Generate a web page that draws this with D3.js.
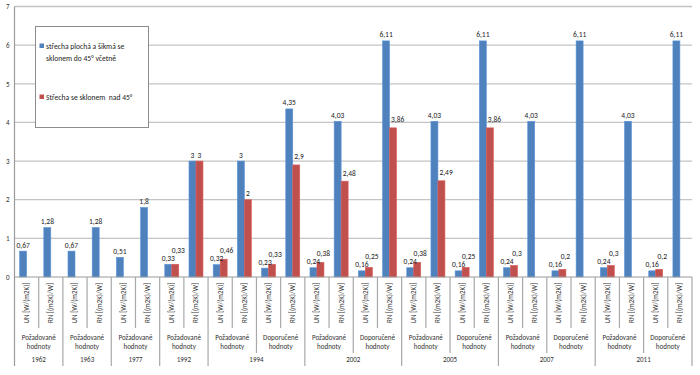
<!DOCTYPE html>
<html><head><meta charset="utf-8">
<script src="https://cdn.jsdelivr.net/npm/d3@7"></script>
<style>
html,body{margin:0;padding:0;background:#fff;}
text{font-family:Carlito,Lato,"Open Sans",sans-serif;}
</style></head>
<body><svg id="c" width="700" height="375"></svg>
<script>
// ---- data ----
const groupYears = ["1962","1963","1977","1992","1994","1994","2002","2002","2005","2005","2007","2007","2011","2011"];
const groupTypes = ["Požadované hodnoty","Požadované hodnoty","Požadované hodnoty","Požadované hodnoty",
  "Požadované hodnoty","Doporučené hodnoty","Požadované hodnoty","Doporučené hodnoty",
  "Požadované hodnoty","Doporučené hodnoty","Požadované hodnoty","Doporučené hodnoty",
  "Požadované hodnoty","Doporučené hodnoty"];
const measures = ["UN [W/(m2K)]","RN [(m2K)/W]"];
const seriesNames = ["střecha plochá a šikmá se sklonem do 45° včetně","Střecha se sklonem  nad 45°"];
const blueValues = [0.67,1.28, 0.67,1.28, 0.51,1.8, 0.33,3, 0.32,3, 0.23,4.35, 0.24,4.03, 0.16,6.11, 0.24,4.03, 0.16,6.11, 0.24,4.03, 0.16,6.11, 0.24,4.03, 0.16,6.11];
const redValues  = [null,null, null,null, null,null, 0.33,3, 0.46,2, 0.33,2.9, 0.38,2.48, 0.25,3.86, 0.38,2.49, 0.25,3.86, 0.3,null, 0.2,null, 0.3,null, 0.2,null];
const yTicks = [0,1,2,3,4,5,6,7];

// ---- build categories ----
const cats = [];
groupYears.forEach((y,g)=>measures.forEach((m,j)=>cats.push({id:g*2+j, year:y, type:groupTypes[g], g:g, m:m})));

const svg = d3.select("#c");
const left = 14.5, right = 692, y0 = 277, yTop = 6.5;
const x = d3.scaleBand().domain(cats.map(c=>c.id)).range([left,right]).paddingInner(0).paddingOuter(0);
const x1 = d3.scaleBand().domain([0,1]).range([0,x.bandwidth()]).paddingInner(0).paddingOuter(0.73);
const y = d3.scaleLinear().domain([0,7]).range([y0,yTop]);
const colors = ["#4F81BD","#C0504D"];

// gridlines
svg.append("g").selectAll("line").data(yTicks.filter(t=>t>0)).join("line")
  .attr("x1",left).attr("x2",right).attr("y1",d=>y(d)).attr("y2",d=>y(d))
  .attr("stroke","#c4c4c4").attr("stroke-width",1.3);

// y axis labels
const yAxis = d3.axisLeft(y).tickValues(yTicks).tickSize(0).tickPadding(5).tickFormat(d3.format("d"));
const ya = svg.append("g").attr("transform",`translate(${left},0)`).call(yAxis);
ya.select(".domain").remove();
ya.selectAll("text").attr("font-size",7).attr("fill","#333").style("font-family","Carlito,Lato,sans-serif");

// bars
const series = [blueValues, redValues];
const barG = svg.append("g");
series.forEach((vals,s)=>{
  barG.append("g").selectAll("rect").data(cats.filter(c=>vals[c.id]!=null)).join("rect")
    .attr("x",c=>x(c.id)+x1(s)).attr("width",x1.bandwidth())
    .attr("y",c=>y(vals[c.id])).attr("height",c=>y0-y(vals[c.id]))
    .attr("fill",colors[s]).attr("stroke",d3.color(colors[s]).brighter(0.4)).attr("stroke-width",0.6);
});

// axis lines
svg.append("line").attr("x1",left).attr("x2",right).attr("y1",y0).attr("y2",y0).attr("stroke","#9a9a9a").attr("stroke-width",1.2);
svg.append("line").attr("x1",left).attr("x2",left).attr("y1",yTop).attr("y2",366).attr("stroke","#9a9a9a").attr("stroke-width",1.2);

// category separators
const bounds = d3.range(1,cats.length+1);
svg.append("g").selectAll("line").data(bounds).join("line")
  .attr("x1",k=>k<cats.length?x(k):right).attr("x2",k=>k<cats.length?x(k):right)
  .attr("y1",y0)
  .attr("y2",k=>{
    if(k===cats.length) return 366;
    const a=cats[k-1], b=cats[k];
    if(a.year!==b.year) return 366;
    if(a.g!==b.g) return 353;
    return 328;
  })
  .attr("stroke","#a8a8a8").attr("stroke-width",1.2);

// data labels
const fmt = v=>String(v).replace(".",",");
const lblG = svg.append("g");
cats.forEach(c=>{
  let blueBox=null, blueBase=null;
  series.forEach((vals,s)=>{
    const v = vals[c.id]; if(v==null) return;
    const barX = x(c.id)+x1(s);
    const cx = barX+x1.bandwidth()/2;
    let base = y(v)-3.5;
    const t = lblG.append("text").attr("x",cx).attr("y",base).attr("text-anchor","middle")
      .attr("font-size",7.5).attr("fill","#222").text(fmt(v));
    const w = t.node().getComputedTextLength();
    if(s===0){ blueBox={x0:cx-w/2,x1:cx+w/2}; blueBase=base; }
    else if(blueBox){
      const over = (cx-w/2 < blueBox.x1) && (cx+w/2 > blueBox.x0) && Math.abs(base-blueBase)<9;
      if(over){ t.attr("y",Math.min(base,blueBase-8)).attr("x",cx+3); }
      else if(blueBase < base-8 && cx-w/2 < barX){
        // keep clear of the taller neighbouring bar
        t.attr("x",barX+w/2+1.5).attr("y",base-2);
      }
    }
  });
});

// category labels level 1 (rotated)
svg.append("g").selectAll("text").data(cats).join("text")
  .attr("transform",c=>`translate(${x(c.id)+x.bandwidth()/2+2.5},303) rotate(-90)`)
  .attr("text-anchor","middle").attr("font-size",7).attr("fill","#333").text(c=>c.m);

// level 2 (subgroup type)
const groups = d3.range(groupYears.length);
const gText = svg.append("g").selectAll("text").data(groups).join("text")
  .attr("text-anchor","middle").attr("font-size",7).attr("fill","#333");
gText.each(function(g){
  const cx = (x(g*2)+x(g*2+1)+x.bandwidth())/2;
  const parts = groupTypes[g].split(" ");
  d3.select(this).selectAll("tspan").data(parts).join("tspan")
    .attr("x",cx).attr("y",(d,i)=>339.5+i*9).text(d=>d);
});

// level 3 (years)
const years = Array.from(new Set(groupYears));
svg.append("g").selectAll("text").data(years).join("text")
  .attr("x",yr=>{
    const ids = cats.filter(c=>c.year===yr).map(c=>c.id);
    return (x(d3.min(ids))+x(d3.max(ids))+x.bandwidth())/2;
  })
  .attr("y",361.5).attr("text-anchor","middle").attr("font-size",7).attr("fill","#333").text(d=>d);

// legend
const lg = svg.append("g");
lg.append("rect").attr("x",35.5).attr("y",26.5).attr("width",113).attr("height",101)
  .attr("fill","#fff").attr("stroke","#8c8c8c").attr("stroke-width",1);
const legLines = [["střecha plochá a šikmá se","sklonem do 45° včetně"],[seriesNames[1]]];
const legY = [46,97];
legLines.forEach((lines,s)=>{
  lg.append("rect").attr("x",39.5).attr("y",legY[s]-2.5).attr("width",4.5).attr("height",4.5).attr("fill",colors[s]);
  lines.forEach((ln,i)=>{
    lg.append("text").attr("x",46).attr("y",legY[s]+2.6+i*12).attr("font-size",7.6).attr("fill","#222")
      .style("white-space","pre").text(ln);
  });
});
</script></body></html>
